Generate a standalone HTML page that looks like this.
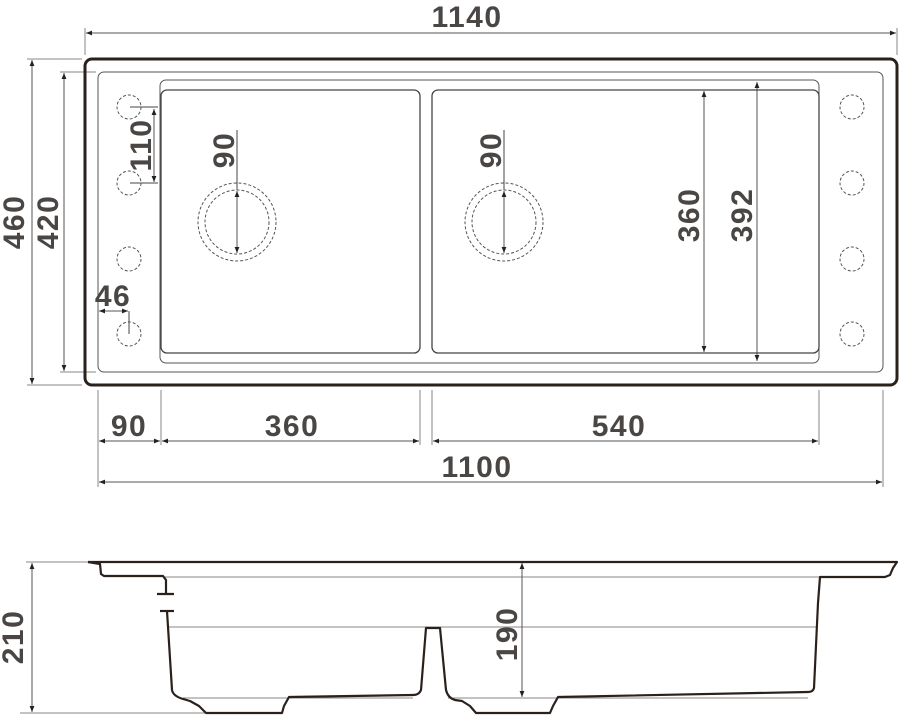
<!DOCTYPE html>
<html><head><meta charset="utf-8"><style>
html,body{margin:0;padding:0;background:#fff;}
svg{display:block;}
text{font-family:"Liberation Sans",sans-serif;font-weight:bold;fill:#4a4644;font-size:30px;letter-spacing:1.5px;}
</style></head><body>
<svg width="905" height="720" viewBox="0 0 905 720" xmlns="http://www.w3.org/2000/svg">
<defs>
<marker id="a" viewBox="0 0 10 10" refX="10" refY="5" markerWidth="7" markerHeight="6" orient="auto-start-reverse"><path d="M0,1 L10,5 L0,9z" fill="#222"/></marker>
</defs>
<g stroke="#8a8684" stroke-width="1" fill="none">
<line x1="85" y1="28" x2="85" y2="55"/><line x1="897" y1="28" x2="897" y2="55"/>
<line x1="27" y1="59" x2="82" y2="59"/><line x1="27" y1="385" x2="82" y2="385"/>
<line x1="60" y1="72" x2="96" y2="72"/><line x1="60" y1="372" x2="96" y2="372"/>
<line x1="98" y1="390" x2="98" y2="487"/><line x1="161" y1="390" x2="161" y2="445"/>
<line x1="420" y1="390" x2="420" y2="445"/><line x1="432" y1="390" x2="432" y2="445"/>
<line x1="819" y1="390" x2="819" y2="445"/><line x1="883" y1="390" x2="883" y2="487"/>
</g>
<g stroke="#555" stroke-width="1" fill="none" marker-start="url(#a)" marker-end="url(#a)">
<line x1="86" y1="33" x2="896" y2="33"/>
<line x1="32" y1="60" x2="32" y2="384"/>
<line x1="64" y1="73" x2="64" y2="371"/>
<line x1="99" y1="441" x2="160" y2="441"/>
<line x1="162" y1="441" x2="419" y2="441"/>
<line x1="433" y1="441" x2="818" y2="441"/>
<line x1="99" y1="482" x2="882" y2="482"/>
<line x1="704" y1="91" x2="704" y2="352"/>
<line x1="757" y1="82" x2="757" y2="361"/>
<line x1="154" y1="109" x2="154" y2="182"/>
<line x1="99" y1="311" x2="128" y2="311"/>
<line x1="237" y1="191" x2="237" y2="253"/>
<line x1="504" y1="191" x2="504" y2="253"/>
</g>
<g stroke="#444" stroke-width="1" fill="none">
<line x1="130" y1="107" x2="158" y2="107"/><line x1="130" y1="183" x2="158" y2="183"/>
<line x1="129" y1="311" x2="129" y2="334"/>
<line x1="237" y1="130" x2="237" y2="190"/><line x1="504" y1="130" x2="504" y2="190"/>
</g>
<rect x="85" y="59" width="812" height="326" rx="7" fill="none" stroke="#2a211d" stroke-width="3"/>
<rect x="98" y="72" width="785" height="300" rx="6" fill="none" stroke="#555" stroke-width="1"/>
<rect x="160" y="80" width="659" height="283" rx="6" fill="none" stroke="#555" stroke-width="1"/>
<rect x="161" y="90" width="259" height="263" rx="6" fill="none" stroke="#444" stroke-width="1.3"/>
<rect x="432" y="90" width="387" height="263" rx="6" fill="none" stroke="#444" stroke-width="1.3"/>
<g fill="none" stroke="#555" stroke-width="1" stroke-dasharray="3,2">
<circle cx="237" cy="222" r="39"/><circle cx="237" cy="222" r="32"/>
<circle cx="504" cy="222" r="39"/><circle cx="504" cy="222" r="32"/>
<circle cx="129" cy="107" r="12"/><circle cx="129" cy="183" r="12"/><circle cx="129" cy="259" r="12"/><circle cx="129" cy="334" r="12"/>
<circle cx="852" cy="107" r="12"/><circle cx="852" cy="183" r="12"/><circle cx="852" cy="259" r="12"/><circle cx="852" cy="334" r="12"/>
</g>
<text x="467" y="27" text-anchor="middle">1140</text>
<text transform="translate(24,222) rotate(-90)" text-anchor="middle">460</text>
<text transform="translate(58,222) rotate(-90)" text-anchor="middle">420</text>
<text transform="translate(151,145) rotate(-90)" text-anchor="middle">110</text>
<text transform="translate(234,150) rotate(-90)" text-anchor="middle">90</text>
<text transform="translate(501,150) rotate(-90)" text-anchor="middle">90</text>
<text transform="translate(699,215) rotate(-90)" text-anchor="middle">360</text>
<text transform="translate(752,215) rotate(-90)" text-anchor="middle">392</text>
<text x="113" y="306" text-anchor="middle">46</text>
<text x="129" y="436" text-anchor="middle">90</text>
<text x="292" y="436" text-anchor="middle">360</text>
<text x="619" y="436" text-anchor="middle">540</text>
<text x="477" y="477" text-anchor="middle">1100</text>
<g stroke="#8a8684" stroke-width="1" fill="none">
<line x1="26" y1="562" x2="210" y2="562"/>
<line x1="20" y1="713" x2="206" y2="713"/>
<line x1="163" y1="577" x2="820" y2="577"/>
<line x1="168" y1="627" x2="818" y2="627"/>
<line x1="183" y1="698" x2="413" y2="698"/>
<line x1="448" y1="698" x2="808" y2="698"/>
</g>
<g stroke="#555" stroke-width="1" fill="none" marker-start="url(#a)" marker-end="url(#a)">
<line x1="32" y1="563" x2="32" y2="712"/>
<line x1="522" y1="563" x2="522" y2="697"/>
</g>
<g stroke="#2a211d" stroke-width="2.2" fill="none" stroke-linejoin="round">
<path d="M88,562 L897,562 L893,568 L890,575 L885,577 L820,577 L818,603 L814,688 Q813,692 808,692 L558,697 L553,706 L550,713 L476,713 L470,706 L462,701 L455,700 Q448,698 446,690 L440,628 L426,628 L421,690 Q419,695 413,695 L289,697 L284,706 L282,713 L206,713 L199,706 L190,701 L183,699 Q173,696 172,690 L167,611"/>
<path d="M88,562 L100,564 L101,574 L104,576 L163,576 L166,580 L166,594"/>
<line x1="157" y1="594" x2="174" y2="594"/>
<line x1="160" y1="611" x2="174" y2="611"/>
</g>
<text transform="translate(23,637) rotate(-90)" text-anchor="middle">210</text>
<text transform="translate(517,634) rotate(-90)" text-anchor="middle">190</text>
</svg>
</body></html>
